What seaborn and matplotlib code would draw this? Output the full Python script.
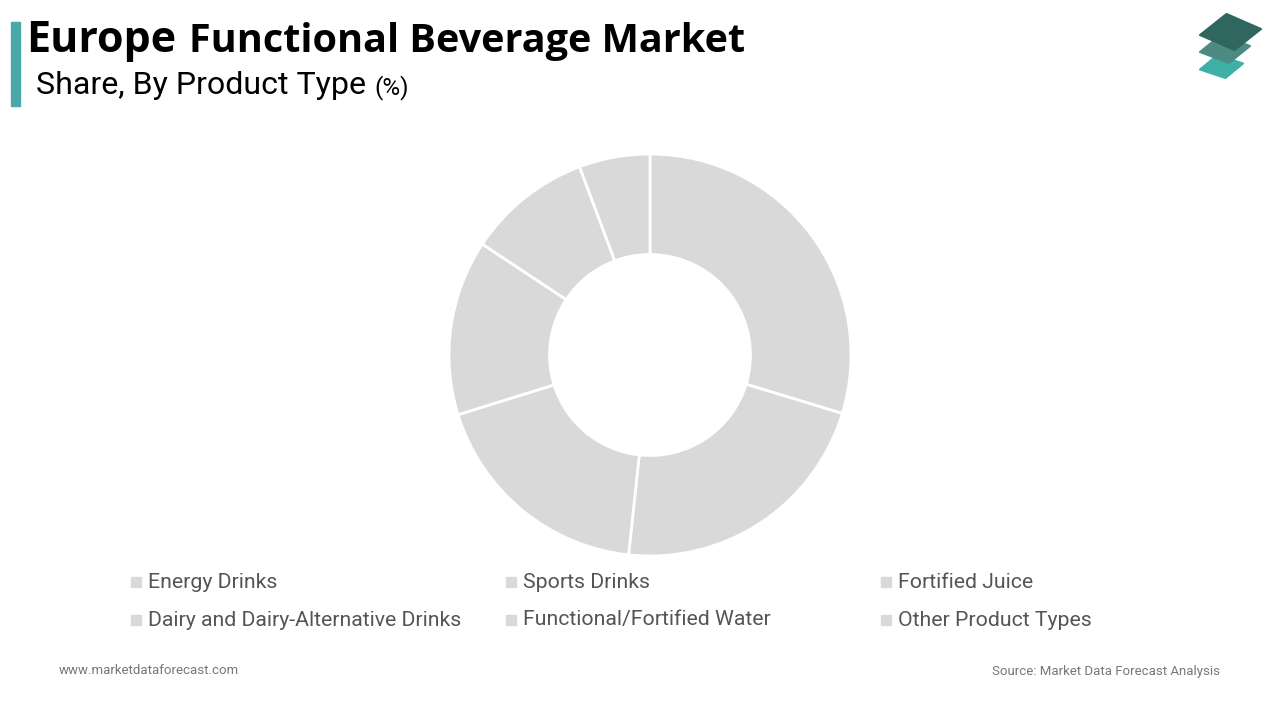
import matplotlib
matplotlib.use("Agg")
import matplotlib.pyplot as plt
from matplotlib.patches import Polygon, Rectangle
import seaborn as sns

categories = ["Energy Drinks", "Sports Drinks", "Fortified Juice",
              "Dairy and Dairy-Alternative Drinks", "Functional/Fortified Water",
              "Other Product Types"]
shares = [29.7, 22.0, 18.5, 14.1, 10.0, 5.7]
slice_colors = ["#d9d9d9"] * len(categories)

title_main = "Europe"
title_rest = "Functional Beverage Market"
subtitle = "Share, By Product Type"
footer_left = "www.marketdataforecast.com"
footer_right = "Source: Market Data Forecast Analysis"

sns.set_theme(style="white")
plt.rcParams['font.family'] = ['Roboto', 'DejaVu Sans']

W, H = 1280, 720
fig = plt.figure(figsize=(12.8, 7.2), dpi=100)
fig.patch.set_facecolor("white")

def fx(x):
    return x / W

def fy(y):
    return 1 - y / H

# Donut
cx, cy, r = 650, 355, 201
ax = fig.add_axes([fx(cx - r), fy(cy + r), 2 * r / W, 2 * r / H])
ax.pie(shares, colors=slice_colors, startangle=90, counterclock=False,
       radius=1, wedgeprops=dict(width=0.5, edgecolor="white", linewidth=2))
ax.set_xlim(-1, 1)
ax.set_ylim(-1, 1)
ax.set_aspect("equal")
ax.axis("off")

# Accent bar
fig.patches.append(Rectangle((fx(11), fy(106)), 9 / W, 84 / H, transform=fig.transFigure,
                             color="#4aa8a8", zorder=3))

# Titles
fig.text(fx(26), fy(52), title_main, fontsize=31, fontweight="bold",
         family=["Open Sans", "DejaVu Sans"], color="black", va="baseline", ha="left")
fig.text(fx(189), fy(52), title_rest, fontsize=28.5, fontweight="bold",
         family=["Open Sans", "DejaVu Sans"], color="black", va="baseline", ha="left")
fig.text(fx(36), fy(94), subtitle, fontsize=23.1, color="black", va="baseline", ha="left")
fig.text(fx(374), fy(94), "(%)", fontsize=17.5, color="black", va="baseline", ha="left")

# Logo
def diamond(x0, x1, ytop, ybot, color):
    xm = (x0 + x1) / 2
    ym = (ytop + ybot) / 2
    pts = [(fx(x0), fy(ym + 3)), (fx(xm - 4), fy(ytop)), (fx(x1), fy(ym - 3)), (fx(xm + 4), fy(ybot))]
    fig.patches.append(Polygon(pts, closed=True, transform=fig.transFigure,
                               facecolor=color, edgecolor=color, linewidth=1.5, joinstyle="round"))

diamond(1200, 1243, 55, 78, "#3fb0a8")
diamond(1200, 1250, 35, 63, "#4e8a84")
diamond(1200, 1261, 14, 50, "#2f6660")

# Legend
col_x = [131, 506, 881]
row_y = [582, 620]
for i, name in enumerate(categories):
    x = col_x[i % 3]
    y = row_y[i // 3]
    fig.patches.append(Rectangle((fx(x), fy(y + 5)), 10 / W, 10 / H, transform=fig.transFigure,
                                 color=slice_colors[i]))
    fig.text(fx(x + 17), fy(y), name, fontsize=15.3, color="#555555", va="center", ha="left")

# Footer
fig.text(fx(59), fy(671), footer_left, fontsize=9.5, color="#777777", va="center", ha="left")
fig.text(fx(1220), fy(671), footer_right, fontsize=9.5, color="#777777", va="center", ha="right")

fig.savefig("out.png", dpi=100, facecolor="white")
